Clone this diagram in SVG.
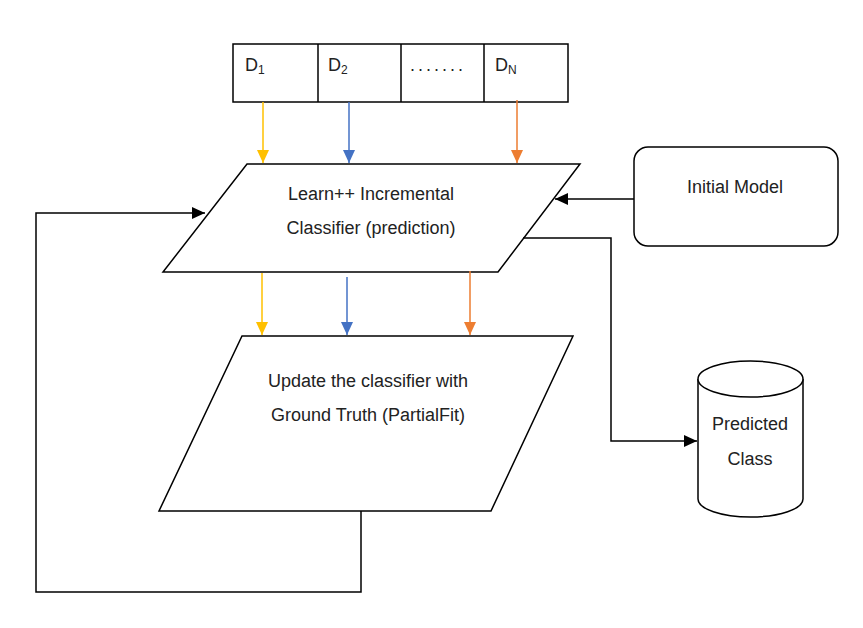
<svg xmlns="http://www.w3.org/2000/svg" width="863" height="628" viewBox="0 0 863 628">
<style>
.shape{fill:#fff;stroke:#000;stroke-width:1.5}
.t{font-family:"Liberation Sans",Arial,sans-serif;font-size:18px;fill:#222}
.c{text-anchor:middle}
.ln{fill:none;stroke-width:1.5}
.k{stroke:#000}
.y{stroke:#FFC000}
.b{stroke:#4472C4}
.o{stroke:#ED7D31}
</style>
<defs>
<marker id="ak" markerUnits="userSpaceOnUse" markerWidth="14" markerHeight="12" refX="13" refY="6" orient="auto"><path d="M0,0 L13,6 L0,12 Z" fill="#000"/></marker>
<marker id="ay" markerUnits="userSpaceOnUse" markerWidth="14" markerHeight="12" refX="13" refY="6" orient="auto"><path d="M0,0 L13,6 L0,12 Z" fill="#FFC000"/></marker>
<marker id="ab" markerUnits="userSpaceOnUse" markerWidth="14" markerHeight="12" refX="13" refY="6" orient="auto"><path d="M0,0 L13,6 L0,12 Z" fill="#4472C4"/></marker>
<marker id="ao" markerUnits="userSpaceOnUse" markerWidth="14" markerHeight="12" refX="13" refY="6" orient="auto"><path d="M0,0 L13,6 L0,12 Z" fill="#ED7D31"/></marker>
</defs>
<rect width="863" height="628" fill="#fff"/>

<g id="data-blocks">
<rect class="shape" x="233" y="44" width="335" height="58"/>
<line class="ln k" x1="318" y1="44" x2="318" y2="102"/>
<line class="ln k" x1="401" y1="44" x2="401" y2="102"/>
<line class="ln k" x1="484" y1="44" x2="484" y2="102"/>
<text class="t" x="245" y="71">D<tspan font-size="12" dy="3">1</tspan></text>
<text class="t" x="328" y="71">D<tspan font-size="12" dy="3">2</tspan></text>
<text class="t" x="410" y="71" letter-spacing="3">.......</text>
<text class="t" x="495" y="71">D<tspan font-size="12" dy="3">N</tspan></text>
</g>

<g id="classifier">
<polygon class="shape" points="247,164 580,164 498,272 163,272"/>
<text class="t c" x="371" y="200">Learn++ Incremental</text>
<text class="t c" x="371" y="234">Classifier (prediction)</text>
</g>

<g id="update">
<polygon class="shape" points="242,336 573,336 491,511 159,511"/>
<text class="t c" x="368" y="387">Update the classifier with</text>
<text class="t c" x="368" y="421">Ground Truth (PartialFit)</text>
</g>

<g id="initial-model">
<rect class="shape" x="634" y="147" width="204" height="99" rx="14"/>
<text class="t c" x="735" y="193">Initial Model</text>
</g>

<g id="predicted-class">
<path class="shape" d="M698,379 L698,499 A52.5,18 0 0 0 803,499 L803,379"/>
<ellipse class="shape" cx="750.5" cy="379" rx="52.5" ry="18"/>
<text class="t c" x="750" y="430">Predicted</text>
<text class="t c" x="750" y="465">Class</text>
</g>

<g id="connectors">
<line class="ln y" x1="263" y1="102" x2="263" y2="163" marker-end="url(#ay)"/>
<line class="ln b" x1="349" y1="102" x2="349" y2="163" marker-end="url(#ab)"/>
<line class="ln o" x1="517" y1="100" x2="517" y2="163" marker-end="url(#ao)"/>
<line class="ln y" x1="262" y1="273" x2="262" y2="335" marker-end="url(#ay)"/>
<line class="ln b" x1="347" y1="277" x2="347" y2="335" marker-end="url(#ab)"/>
<line class="ln o" x1="470" y1="271" x2="470" y2="335" marker-end="url(#ao)"/>
<line class="ln k" x1="634" y1="199" x2="555" y2="199" marker-end="url(#ak)"/>
<polyline class="ln k" points="523,238 611,238 611,441 697,441" marker-end="url(#ak)"/>
<polyline class="ln k" points="361,511 361,592 36,592 36,213 205,213" marker-end="url(#ak)"/>
</g>
</svg>
